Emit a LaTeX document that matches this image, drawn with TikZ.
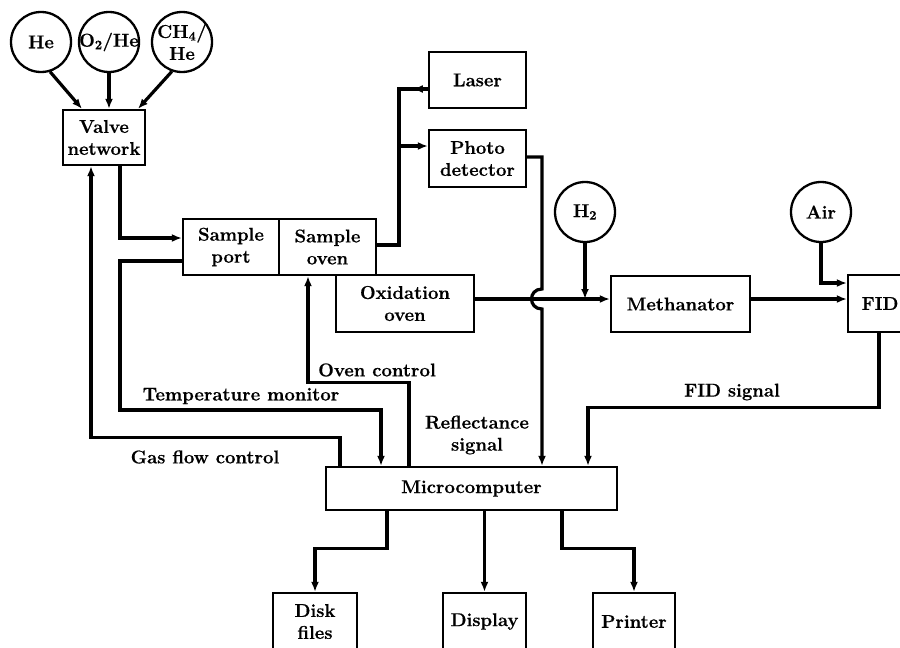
\documentclass[tikz,border=0pt]{standalone}
\usepackage{fontspec}
\setmainfont{Latin Modern Roman}[BoldFeatures={FakeBold=0.6}]
\usetikzlibrary{arrows.meta,calc}
\begin{document}
\begin{tikzpicture}[x=1pt,y=-1pt,
  txt/.style={font=\fontsize{18.5}{22}\selectfont\bfseries, align=center, inner sep=0pt},
  blk/.style={txt, draw, line width=2.3pt, rectangle},
  gas/.style={draw, line width=2.3pt, circle, minimum size=60pt, inner sep=0pt},
  wire/.style={line width=3.2pt},
  arr/.style={wire, -{Latex[length=10pt,width=8pt]}}]
\clip (0,0) rectangle (900,648);
\fill[white] (0,0) rectangle (900,648);

% gas supplies
\node[gas, label={[txt]center:He}] (he) at (41,42) {};
\node[gas, label={[txt]center:O\textsubscript{2}/He}] (o2) at (109,42) {};
\node[gas, label={[txt]center:CH\textsubscript{4}/\\He}] (ch4) at (182,42) {};
\node[gas, label={[txt]center:H\textsubscript{2}}] (h2) at (585,212) {};
\node[gas, label={[txt]center:Air}] (air) at (821,212) {};

% boxes
\node[blk, minimum width=82pt, minimum height=55pt] (valve) at (104,137.5) {Valve\\network};
\node[blk, minimum width=96pt, minimum height=56pt] (port) at (231,247) {Sample\\port};
\node[blk, minimum width=97pt, minimum height=56pt] (oven) at (327.5,247) {Sample\\oven};
\node[blk, minimum width=97pt, minimum height=56pt] (laser) at (477.5,80) {Laser};
\node[blk, minimum width=97pt, minimum height=57pt] (photo) at (477.5,158.5) {Photo\\detector};
\node[blk, minimum width=138pt, minimum height=57pt] (oxid) at (405,303.5) {Oxidation\\oven};
\node[blk, minimum width=139pt, minimum height=56pt] (meth) at (680.5,304) {Methanator};
\node[blk, minimum width=64pt, minimum height=57pt] (fid) at (880,303.5) {FID};
\node[blk, minimum width=291pt, minimum height=43pt] (micro) at (471.5,488.5) {Microcomputer};
\node[blk, minimum width=84pt, minimum height=57pt] (disk) at (315,621.5) {Disk\\files};
\node[blk, minimum width=83pt, minimum height=57pt] (display) at (484.5,621.5) {Display};
\node[blk, minimum width=82pt, minimum height=57pt] (printer) at (634,621.5) {Printer};

% labels
\node[txt] (lgas) at (205,457) {Gas flow control};
\node[txt] (ltemp) at (241,396) {Temperature monitor};
\node[txt] (loven) at (377,370) {Oven control};
\node[txt] (lrefl) at (477,435) {Reflectance\\signal};
\node[txt] (lfid) at (732,392) {FID signal};

% helper coordinates
\coordinate (tm) at (120,410);
\coordinate (lj) at (399,89);
\coordinate (pj) at (399,146);
\coordinate (hA) at (542,289);
\coordinate (hB) at (542,309);
\coordinate (hj) at (585,299);

% connectors
\draw[arr] (he.-73) -- ([xshift=-22pt]valve.north);
\draw[arr] (o2.south) -- ([xshift=5pt]valve.north);
\draw[arr] (ch4.-109) -- ([xshift=34pt]valve.north);
\draw[arr] ([xshift=16pt]valve.south) |- ([yshift=9pt]port.west);
\draw[arr] ([xshift=-131.5pt]micro.north) -- ++(0,-28) -| ([xshift=-13pt]valve.south);
\draw[arr] ([yshift=-14pt]port.west) -| (tm) -| ([xshift=-90.5pt]micro.north);
\draw[arr] ([xshift=-62.5pt]micro.north) -- ++(0,-83) -| ([xshift=-19.5pt]oven.south);
\draw[wire] ([yshift=-9pt]laser.west) -- (lj) |- ([yshift=2pt]oven.east);
\draw[arr] ([yshift=-9pt]laser.west) -- ++(-15,0);
\draw[arr] (pj) -- ([yshift=12.5pt]photo.west);
\draw[arr] ([yshift=1.5pt]photo.east) -| (hA) .. controls (528,289) and (528,309) .. (hB) -- ([xshift=70.5pt]micro.north);
\draw[arr] ([yshift=4.5pt]oxid.east) -- ([yshift=5pt]meth.west);
\draw[arr] (h2.south) -- (hj);
\draw[arr] ([yshift=5pt]meth.east) -- ([yshift=4.5pt]fid.west);
\draw[arr] (air.south) |- ([yshift=20.5pt]fid.west);
\draw[arr] ([xshift=-1pt]fid.south) -- ++(0,74) -| ([xshift=116.5pt]micro.north);
\draw[arr] ([xshift=-84.5pt]micro.south) -- ++(0,37) -| (disk.north);
\draw[arr] (display.north |- micro.south) -- (display.north);
\draw[arr] ([xshift=90.5pt]micro.south) -- ++(0,37) -| (printer.north);
\end{tikzpicture}
\end{document}
